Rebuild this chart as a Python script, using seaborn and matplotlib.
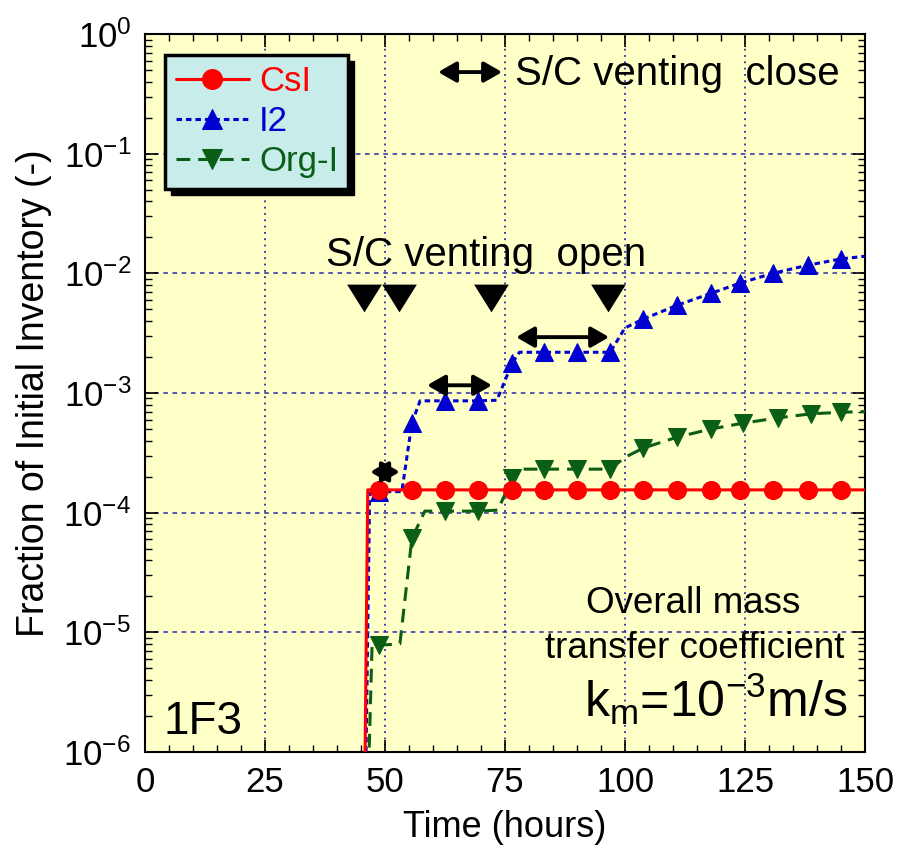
import matplotlib
matplotlib.use('Agg')
import matplotlib.pyplot as plt
import seaborn as sns
import pandas as pd
from matplotlib.ticker import MultipleLocator, LogLocator, NullFormatter
from matplotlib.patches import Rectangle
from matplotlib.transforms import IdentityTransform

# CsI release (time in hours, fraction of initial inventory)
csi_t = [45.6, 46.4, 48.75, 55.6, 62.5, 69.4, 76.5, 83.1, 90.0, 96.9, 103.75,
         110.8, 117.9, 124.0, 130.8, 138.1, 145.0, 150.0]
csi_v = [1e-7, 1.55e-4, 1.55e-4, 1.55e-4, 1.55e-4, 1.55e-4, 1.55e-4, 1.55e-4,
         1.55e-4, 1.55e-4, 1.55e-4, 1.55e-4, 1.55e-4, 1.55e-4, 1.55e-4,
         1.55e-4, 1.55e-4, 1.55e-4]
csi_marks = list(range(2, 17))

# I2 release
i2_t = [45.7, 46.8, 48.75, 53.5, 55.6, 57.3, 62.5, 69.4, 73.3, 76.5, 78.0,
        83.1, 90.0, 96.9, 100.0, 103.75, 110.8, 117.9, 124.0, 130.8, 138.1,
        145.0, 150.0]
i2_v = [1e-7, 1.45e-4, 1.5e-4, 1.5e-4, 5.6e-4, 8.6e-4, 8.6e-4, 8.6e-4, 8.7e-4,
        1.78e-3, 2.19e-3, 2.19e-3, 2.19e-3, 2.19e-3, 3.5e-3, 4.14e-3, 5.4e-3,
        6.8e-3, 8.3e-3, 1.0e-2, 1.17e-2, 1.32e-2, 1.39e-2]
i2_marks = [2, 4, 6, 7, 9, 11, 12, 13, 15, 16, 17, 18, 19, 20, 21]

# Organic iodine release
org_t = [46.0, 47.3, 48.75, 53.1, 55.6, 58.3, 62.5, 69.4, 73.5, 76.5, 78.0,
         83.1, 90.0, 96.9, 100.0, 103.75, 110.8, 117.9, 124.6, 131.9, 138.75,
         145.0, 150.0]
org_v = [1e-7, 7.8e-6, 7.8e-6, 8.0e-6, 6.1e-5, 1.03e-4, 1.03e-4, 1.03e-4,
         1.05e-4, 1.95e-4, 2.31e-4, 2.31e-4, 2.31e-4, 2.31e-4, 2.9e-4, 3.46e-4,
         4.27e-4, 5.0e-4, 5.6e-4, 6.2e-4, 6.7e-4, 6.9e-4, 7.0e-4]
org_marks = [2, 4, 6, 7, 9, 11, 12, 13, 15, 16, 17, 18, 19, 20, 21]

# S/C venting open events and closed periods
vent_open_t = [45.6, 52.9, 72.1, 96.5]
vent_open_v = [6.2e-3, 6.2e-3, 6.2e-3, 6.2e-3]
close_start = [46.9, 58.75, 77.3]
close_end = [53.1, 72.3, 96.7]
close_v = [2.19e-4, 1.16e-3, 2.93e-3]

red = '#ff0000'
blue = '#0000d0'
green = '#0b5e16'

sns.set_style('ticks')
plt.rcParams['font.family'] = ['Liberation Sans', 'DejaVu Sans']
plt.rcParams['mathtext.default'] = 'regular'
plt.rcParams['axes.unicode_minus'] = False
for k in ['text.color', 'axes.labelcolor', 'xtick.color', 'ytick.color']:
    plt.rcParams[k] = 'black'

fig, ax = plt.subplots(figsize=(8.99, 8.55), dpi=100)
fig.subplots_adjust(left=0.1613, right=0.9622, bottom=0.1205, top=0.9602)
ax.set_facecolor('#ffffc8')

csi = pd.DataFrame({'t': csi_t, 'v': csi_v})
i2 = pd.DataFrame({'t': i2_t, 'v': i2_v})
org = pd.DataFrame({'t': org_t, 'v': org_v})

sns.lineplot(data=csi, x='t', y='v', ax=ax, color=red, lw=2.2, estimator=None,
             sort=False, marker='o', ms=13, mec=red, markevery=csi_marks,
             label='CsI', zorder=4)
sns.lineplot(data=i2, x='t', y='v', ax=ax, color=blue, lw=2.2, estimator=None,
             sort=False, linestyle=(0, (1.8, 1.3)), marker='^', ms=13, mec=blue,
             markevery=i2_marks, label='I2', zorder=3)
sns.lineplot(data=org, x='t', y='v', ax=ax, color=green, lw=2.2, estimator=None,
             sort=False, linestyle=(0, (4.5, 2.6)), marker='v', ms=13, mec=green,
             markevery=org_marks, label='Org-I', zorder=3)

# venting open markers
ax.scatter(vent_open_t, vent_open_v, marker=[(-1, 0.8), (1, 0.8), (0, -0.8)],
           s=25 ** 2, color='black', zorder=5, linewidths=0)

# closed periods
arrow_kw = dict(arrowstyle='<|-|>,head_length=0.42,head_width=0.24', color='black',
                lw=2.8, mutation_scale=26, shrinkA=0, shrinkB=0,
                joinstyle='round', capstyle='butt')
for x0, x1, y in zip(close_start, close_end, close_v):
    ax.annotate('', xy=(x1, y), xytext=(x0, y), arrowprops=arrow_kw, zorder=5)
ax.annotate('', xy=(0.496, 0.947), xytext=(0.407, 0.947), xycoords='axes fraction',
            textcoords='axes fraction', arrowprops=arrow_kw)

ax.text(0.514, 0.929, 'S/C venting  close', transform=ax.transAxes, fontsize=29)
ax.text(0.251, 0.677, 'S/C venting  open', transform=ax.transAxes, fontsize=29)
ax.text(0.025, 0.025, '1F3', transform=ax.transAxes, fontsize=33)
ax.text(0.761, 0.1936, 'Overall mass', transform=ax.transAxes, fontsize=26.5,
        ha='center')
ax.text(0.764, 0.131, 'transfer coefficient', transform=ax.transAxes,
        fontsize=26.5, ha='center')
ax.text(0.975, 0.0487, r'k$_{m}$=10$^{-3}$m/s', transform=ax.transAxes,
        fontsize=36, ha='right')

ax.set_yscale('log')
ax.set_xlim(0, 150)
ax.set_ylim(1e-6, 1)
ax.xaxis.set_major_locator(MultipleLocator(25))
ax.xaxis.set_minor_locator(MultipleLocator(5))
ax.yaxis.set_major_locator(LogLocator(base=10, numticks=10))
ax.yaxis.set_minor_locator(LogLocator(base=10, subs=range(2, 10), numticks=20))
ax.yaxis.set_minor_formatter(NullFormatter())

ax.grid(axis='x', which='major', linestyle=(0, (1, 2.5)), color='#2b2ba8', lw=1.3)
ax.grid(axis='y', which='major', linestyle=(0, (3, 3)), color='#2b2ba8', lw=1.1)
ax.set_axisbelow(True)

ax.tick_params(which='both', direction='in', top=True, right=True, color='black',
               labelsize=25)
ax.tick_params(which='major', length=9, width=1.2, pad=10)
ax.tick_params(which='minor', length=5, width=1)
for s in ax.spines.values():
    s.set_color('black')
    s.set_linewidth(1.5)

ax.set_xlabel('Time (hours)', fontsize=26, labelpad=8)
ax.set_ylabel('Fraction of Initial Inventory (-)', fontsize=27, labelpad=8)

leg = ax.legend(loc='upper left', bbox_to_anchor=(0.028, 0.971), borderaxespad=0,
                fontsize=25, handlelength=2.1, handletextpad=0.3,
                labelspacing=0.2, borderpad=0.3, fancybox=False,
                framealpha=1, facecolor='#c8ecea', edgecolor='black',
                labelcolor='linecolor', markerscale=1.1)
leg.get_frame().set_linewidth(2.5)
leg.set_zorder(6)

# solid black drop shadow behind the legend box
fig.canvas.draw()
bb = leg.get_frame().get_window_extent()
shadow = Rectangle((bb.x0 + 6, bb.y0 - 6), bb.width, bb.height,
                   transform=IdentityTransform(), color='black', zorder=5.9)
ax.add_artist(shadow)

fig.savefig('out.png', dpi=100)
